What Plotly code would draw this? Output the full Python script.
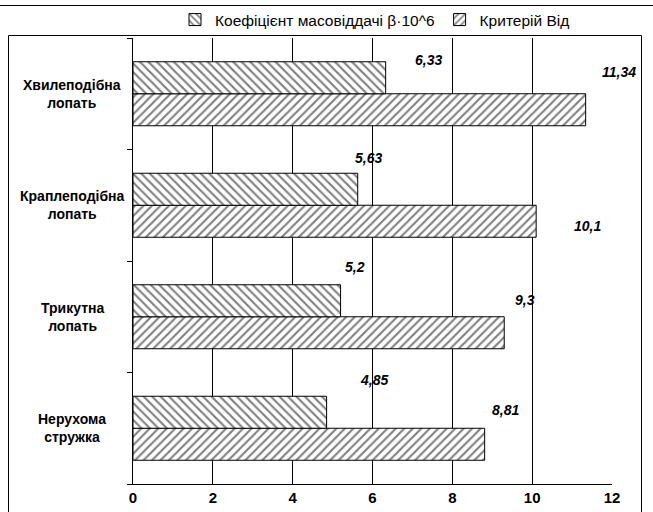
import plotly.graph_objects as go

# Categories, bottom to top
categories = ["Нерухома<br>стружка", "Трикутна<br>лопать",
              "Краплеподібна<br>лопать", "Хвилеподібна<br>лопать"]
beta_values = [4.85, 5.2, 5.63, 6.33]      # Коефіцієнт масовіддачі β·10^6
bd_values = [8.81, 9.3, 10.1, 11.34]        # Критерій Від
beta_labels = ["4,85", "5,2", "5,63", "6,33"]
bd_labels = ["8,81", "9,3", "10,1", "11,34"]
x_ticks = [0, 2, 4, 6, 8, 10, 12]

# Pixel nudges for the value labels (x right, y up from category centre)
beta_label_dx = [31, 2, -5, 27]
beta_label_dy = [48, 50, 47, 34]
bd_label_dx = [5, 9, 36, 14]
bd_label_dy = [18, 17, -21, 22]

W, H = 653, 512
L, R, T, B = 133, 41, 38, 28
pw, ph = W - L - R, H - T - B
FONT = "Arial, Liberation Sans, sans-serif"
NARROW = "Liberation Sans Narrow, Arial Narrow, Arial, sans-serif"


def px_x(p):
    return (p - L) / pw


def px_y(p):
    return (H - B - p) / ph


fig = go.Figure()

# The first trace sits lower inside each horizontal group
fig.add_trace(go.Bar(
    y=categories, x=bd_values, orientation="h", name="Критерій Від",
    legendrank=2,
    marker=dict(color="white", line=dict(color="black", width=1),
                pattern=dict(shape="/", fgcolor="black", bgcolor="white",
                             size=6, solidity=0.35)),
))
fig.add_trace(go.Bar(
    y=categories, x=beta_values, orientation="h",
    name="Коефіцієнт масовіддачі β·10^6", legendrank=1,
    marker=dict(color="white", line=dict(color="black", width=1),
                pattern=dict(shape="\\", fgcolor="black", bgcolor="white",
                             size=6, solidity=0.35)),
))

annotations = []
label_font = dict(family=FONT, size=14, color="black")
for cat, v, lab, dx, dy in zip(categories, beta_values, beta_labels,
                               beta_label_dx, beta_label_dy):
    annotations.append(dict(x=v, y=cat, text=f"<b><i>{lab}</i></b>",
                            showarrow=False, xanchor="left", yanchor="middle",
                            xshift=dx, yshift=dy, font=label_font))
for cat, v, lab, dx, dy in zip(categories, bd_values, bd_labels,
                               bd_label_dx, bd_label_dy):
    annotations.append(dict(x=v, y=cat, text=f"<b><i>{lab}</i></b>",
                            showarrow=False, xanchor="left", yanchor="middle",
                            xshift=dx, yshift=dy, font=label_font))
# Centered category names on the left
for cat in categories:
    annotations.append(dict(x=px_x(72), xref="paper", y=cat,
                            text=f"<b>{cat}</b>", showarrow=False,
                            xanchor="center", yanchor="middle", align="center",
                            font=dict(family=FONT, size=14, color="black")))

shapes = [
    # line across the top
    dict(type="line", xref="paper", yref="paper",
         x0=px_x(0), x1=px_x(W), y0=px_y(5.5), y1=px_y(5.5),
         line=dict(color="black", width=1), layer="above"),
    # chart box
    dict(type="rect", xref="paper", yref="paper",
         x0=px_x(8.5), x1=px_x(641.5), y0=px_y(H + 5), y1=px_y(35.5),
         line=dict(color="black", width=1), fillcolor="rgba(0,0,0,0)",
         layer="above"),
]

fig.update_layout(
    width=W, height=H,
    margin=dict(l=L, r=R, t=T, b=B, pad=0, autoexpand=False),
    paper_bgcolor="white", plot_bgcolor="white",
    barmode="group", bargap=0.426, bargroupgap=0,
    font=dict(family=FONT, size=14, color="black"),
    showlegend=True,
    legend=dict(orientation="h", x=px_x(175), xanchor="left",
                y=px_y(20), yanchor="middle",
                font=dict(family=FONT, size=15.5, color="black"),
                itemwidth=30, bgcolor="rgba(0,0,0,0)"),
    xaxis=dict(range=[0, 12], tickvals=x_ticks,
               ticktext=[f"<b>{t}</b>" for t in x_ticks],
               showgrid=True, gridcolor="black", gridwidth=1,
               showline=True, linecolor="black", linewidth=1,
               ticks="", zeroline=False,
               tickfont=dict(family=NARROW, size=15, color="black")),
    yaxis=dict(type="category", categoryorder="array", categoryarray=categories,
               range=[-0.5, 3.5], showticklabels=False,
               showline=True, linecolor="black", linewidth=1,
               ticks="outside", ticklen=5, tickcolor="black",
               tickson="boundaries", showgrid=False),
    annotations=annotations,
    shapes=shapes,
)

fig.write_html("out.html")
